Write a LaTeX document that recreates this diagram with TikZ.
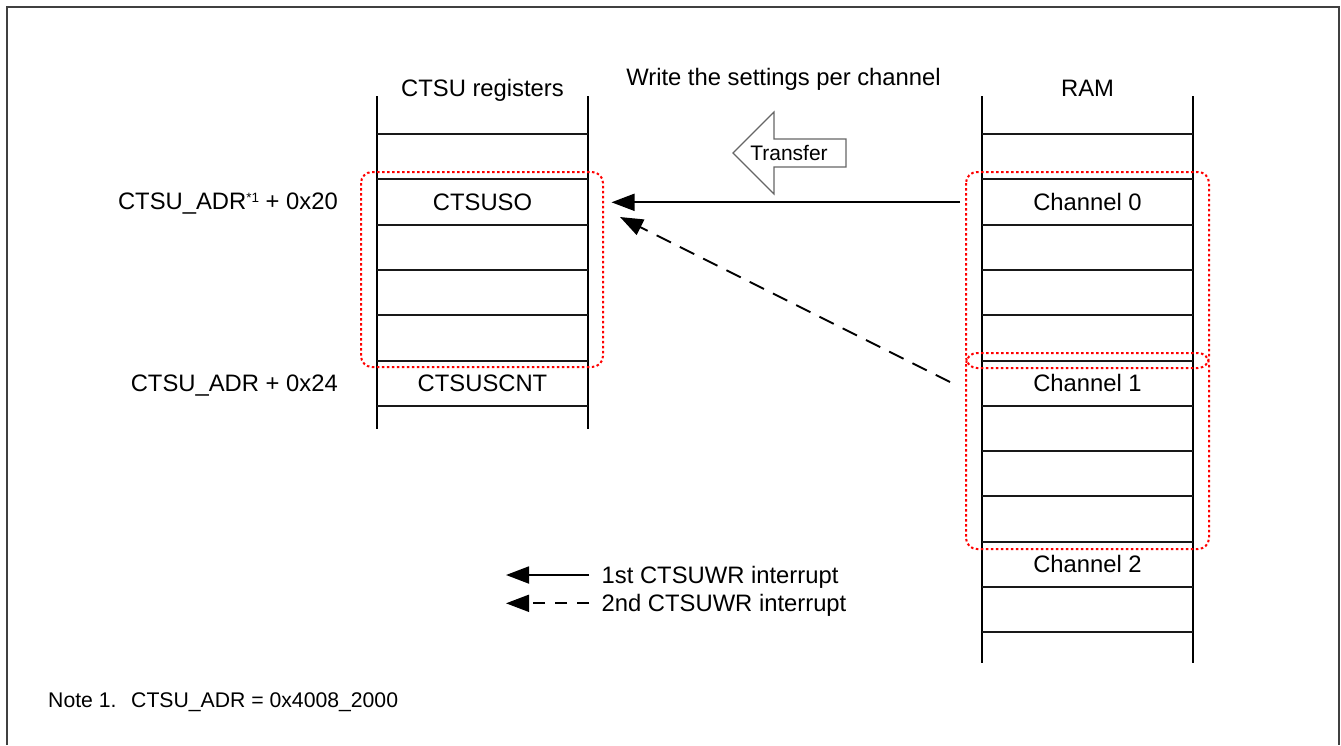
\documentclass[tikz,border=0pt]{standalone}
\usepackage{fontspec}
\setmainfont{Liberation Sans}
\usetikzlibrary{arrows.meta}
\begin{document}
\begin{tikzpicture}[x=1pt,y=-1pt,
  txt/.style={inner sep=0pt,font=\fontsize{23.8}{28}\selectfont},
  smalltxt/.style={inner sep=0pt,font=\fontsize{21.2}{25}\selectfont},
  colline/.style={line width=2pt,black},
  rowline/.style={line width=2pt,black!90},
  redbox/.style={draw=red,line width=2pt,dash pattern=on 2.5pt off 2.5pt,rounded corners=11pt},
  conn/.style={line width=1.8pt,-{Triangle[length=23pt,width=17pt]}},
  dashconn/.style={conn,dash pattern=on 16pt off 10pt},
  legdash/.style={conn,dash pattern=on 12.5pt off 9.5pt},
  frameline/.style={line width=2.5pt,black!75},
  blockarrow/.style={draw=black!60,line width=1.2pt,fill=white}
]
\useasboundingbox (0,0) rectangle (1341,745);
% frame
\draw[frameline] (7,745) -- (7,7) -- (1339,7) -- (1339,745);

% CTSU register column
\draw[colline] (377,96) -- (377,429);
\draw[colline] (588,96) -- (588,429);
\foreach \y in {134,179,225,270,315,361,406} \draw[rowline] (377,\y) -- (588,\y);

% RAM column
\draw[colline] (982,96) -- (982,663);
\draw[colline] (1193,96) -- (1193,663);
\foreach \y in {134,179,225,270,315,361,406,451,496,542,587,632} \draw[rowline] (982,\y) -- (1193,\y);

% headers
\node[txt,anchor=base] (reghead) at (482.5,96) {CTSU registers};
\node[txt,anchor=base] (ramhead) at (1087.5,96) {RAM};
\node[txt,anchor=base] (title) at (783.5,85) {Write the settings per channel};

% cells
\node[txt,anchor=base] (ctsuso) at (482.5,210.5) {CTSUSO};
\node[txt,anchor=base] (ctsuscnt) at (482.5,391.7) {CTSUSCNT};
\node[txt,anchor=base] (ch0) at (1087.5,210.5) {Channel 0};
\node[txt,anchor=base] (ch1) at (1087.5,391.7) {Channel 1};
\node[txt,anchor=base] (ch2) at (1087.5,572.9) {Channel 2};

% address labels
\node[txt,anchor=base east] (adr20) at (338,209.5) {CTSU\_ADR\raisebox{7.5pt}{\fontsize{13.5}{14}\selectfont *1} + 0x20};
\node[txt,anchor=base east] (adr24) at (338,391.5) {CTSU\_ADR + 0x24};

% red dotted groups
\draw[redbox] (361,172) rectangle (603,367);
\draw[redbox] (966,172) rectangle (1209,368);
\draw[redbox] (966,353) rectangle (1209,549);

% transfer block arrow
\draw[blockarrow] (733,153) -- (774,112) -- (774,139) -- (846,139) -- (846,167) -- (774,167) -- (774,194) -- cycle;
\node[inner sep=0pt,font=\fontsize{21}{25}\selectfont,anchor=base] (transfer) at (789,160.5) {Transfer};

% transfers
\coordinate (src0) at (960,202.3);
\coordinate (dst0) at (611.5,202.3);
\draw[conn] (src0) -- (dst0);
\coordinate (src1) at (950,382);
\coordinate (dst1) at (620,217);
\draw[dashconn] (src1) -- (dst1);

% legend
\coordinate (l1s) at (589,575);
\coordinate (l1e) at (506,575);
\draw[conn] (l1s) -- (l1e);
\node[txt,anchor=base west] (leg1) at (601.5,583) {1st CTSUWR interrupt};
\coordinate (l2s) at (589,603.3);
\coordinate (l2e) at (506,603.3);
\draw[legdash] (l2s) -- (l2e);
\node[txt,anchor=base west] (leg2) at (601.5,611.5) {2nd CTSUWR interrupt};

% note
\node[smalltxt,anchor=base west] (note) at (48,707) {Note 1.};
\node[smalltxt,anchor=base west] (notetxt) at (131,707) {CTSU\_ADR = 0x4008\_2000};
\end{tikzpicture}
\end{document}
